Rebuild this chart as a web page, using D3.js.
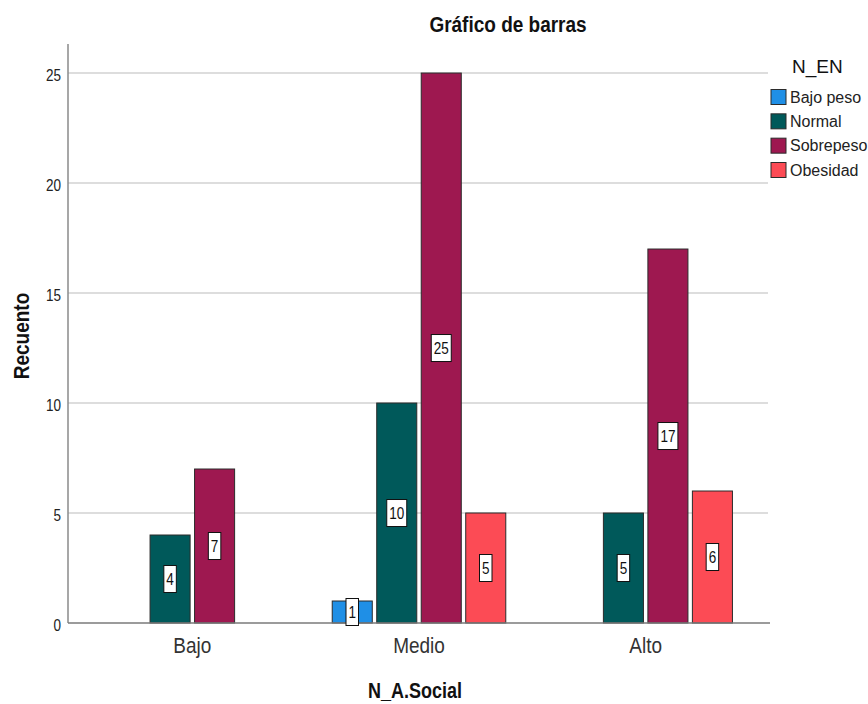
<!DOCTYPE html>
<html>
<head>
<meta charset="utf-8">
<script src="https://cdn.jsdelivr.net/npm/d3@7"></script>
<style>
  html, body { margin: 0; padding: 0; background: #fff; }
  svg { display: block; font-family: "Liberation Sans", Arial, sans-serif; }
</style>
</head>
<body>
<svg id="chart" width="868" height="704"></svg>
<script>
// Counts of N_EN category within each N_A.Social level
const categories = ["Bajo", "Medio", "Alto"];
const series = ["Bajo peso", "Normal", "Sobrepeso", "Obesidad"];
const bajoPeso  = [0, 1, 0];
const normal    = [4, 10, 5];
const sobrepeso = [7, 25, 17];
const obesidad  = [0, 5, 6];
const yTicks = [0, 5, 10, 15, 20, 25];
const colors = ["#1f8fe6", "#00595a", "#9e1850", "#fc4b55"];

const seriesValues = [bajoPeso, normal, sobrepeso, obesidad];
const rows = [];
categories.forEach((c, i) => {
  series.forEach((s, j) => rows.push({ cat: c, ser: s, value: seriesValues[j][i] }));
});

const svg = d3.select("#chart");

const plot = { left: 68, right: 768, top: 44, bottom: 623 };

const y = d3.scaleLinear().domain([0, 26.32]).range([plot.bottom, plot.top]);
const x0 = d3.scaleBand().domain(categories).range([79, 759]);
const x1 = d3.scaleBand().domain(series).range([-89, 89]).paddingInner(0.1).paddingOuter(0.05);
const color = d3.scaleOrdinal().domain(series).range(colors);

// Gridlines
svg.append("g")
  .selectAll("line")
  .data(yTicks.filter(t => t > 0))
  .join("line")
  .attr("x1", plot.left).attr("x2", plot.right)
  .attr("y1", d => y(d)).attr("y2", d => y(d))
  .attr("stroke", "#d2d2d2").attr("stroke-width", 1.5);

// Y axis: line plus labels, no tick marks
const yAxis = svg.append("g")
  .attr("transform", `translate(${plot.left},0)`)
  .call(d3.axisLeft(y).tickValues(yTicks).tickSize(0).tickPadding(7).tickFormat(d3.format("d")));
yAxis.select(".domain").remove();
yAxis.selectAll(".tick text")
  .attr("font-size", 13.5)
  .attr("fill", "#222")
  .attr("font-family", "Liberation Sans, Arial, sans-serif")
  .attr("dy", null)
  .attr("y", 0)
  .attr("transform", "translate(0,1) scale(1,1.25)")
  .attr("dominant-baseline", "central");

svg.append("line")
  .attr("x1", plot.left).attr("x2", plot.left)
  .attr("y1", plot.top).attr("y2", plot.bottom)
  .attr("stroke", "#8a8a8a").attr("stroke-width", 1.5);

// Bars
const bars = rows.filter(d => d.value > 0);
const barX = d => x0(d.cat) + x0.bandwidth() / 2 + x1(d.ser);

svg.append("g")
  .selectAll("rect")
  .data(bars)
  .join("rect")
  .attr("x", barX)
  .attr("width", x1.bandwidth())
  .attr("y", d => y(d.value))
  .attr("height", d => y(0) - y(d.value))
  .attr("fill", d => color(d.ser))
  .attr("stroke", "#2b2b2b")
  .attr("stroke-width", 1);

// Baseline along zero
svg.append("line")
  .attr("x1", plot.left).attr("x2", 770)
  .attr("y1", y(0)).attr("y2", y(0))
  .attr("stroke", "#7a7a7a").attr("stroke-width", 1.5);

// Value labels in white boxes at mid-height of each bar
const labels = svg.append("g")
  .selectAll("g")
  .data(bars)
  .join("g")
  .attr("transform", d => `translate(${barX(d) + x1.bandwidth() / 2},${y(d.value / 2)})`);

labels.each(function(d) {
  const g = d3.select(this);
  const txt = String(d.value);
  const w = txt.length * 7.5 + 5;
  g.append("rect")
    .attr("x", -w / 2).attr("y", -13.5)
    .attr("width", w).attr("height", 27)
    .attr("fill", "#fff").attr("stroke", "#111").attr("stroke-width", 1);
  g.append("text")
    .attr("text-anchor", "middle")
    .attr("dominant-baseline", "central")
    .attr("transform", "scale(1,1.25)")
    .attr("font-size", 13.5)
    .attr("fill", "#111")
    .text(txt);
});

// X category labels
svg.append("g")
  .selectAll("text")
  .data(categories)
  .join("text")
  .attr("transform", d => `translate(${x0(d) + x0.bandwidth() / 2},653) scale(1,1.2)`)
  .attr("text-anchor", "middle")
  .attr("font-size", 19)
  .attr("fill", "#333")
  .text(d => d);

// Title
svg.append("text")
  .attr("transform", "translate(508,32) scale(1,1.2)")
  .attr("text-anchor", "middle")
  .attr("font-size", 19)
  .attr("font-weight", "bold")
  .attr("fill", "#111")
  .text("Gráfico de barras");

// Axis titles
svg.append("text")
  .attr("transform", "translate(415,698) scale(1,1.2)")
  .attr("text-anchor", "middle")
  .attr("font-size", 18)
  .attr("font-weight", "bold")
  .attr("fill", "#111")
  .text("N_A.Social");

svg.append("text")
  .attr("transform", "translate(29,336) rotate(-90) scale(1,1.15)")
  .attr("text-anchor", "middle")
  .attr("font-size", 19)
  .attr("font-weight", "bold")
  .attr("fill", "#111")
  .text("Recuento");

// Legend
const legend = svg.append("g").attr("transform", "translate(771,0)");
legend.append("text")
  .attr("x", 21).attr("y", 73)
  .attr("font-size", 19)
  .attr("fill", "#111")
  .text("N_EN");

const legendY = d3.scalePoint().domain(series).range([97, 170]);
const item = legend.selectAll("g.item")
  .data(series)
  .join("g")
  .attr("class", "item")
  .attr("transform", d => `translate(0,${legendY(d)})`);
item.append("rect")
  .attr("x", 0).attr("y", -7.5)
  .attr("width", 15).attr("height", 15)
  .attr("fill", d => color(d))
  .attr("stroke", "#2b2b2b").attr("stroke-width", 1);
item.append("text")
  .attr("x", 19).attr("y", 0)
  .attr("dominant-baseline", "central")
  .attr("font-size", 16)
  .attr("fill", "#222")
  .text(d => d);
</script>
</body>
</html>
